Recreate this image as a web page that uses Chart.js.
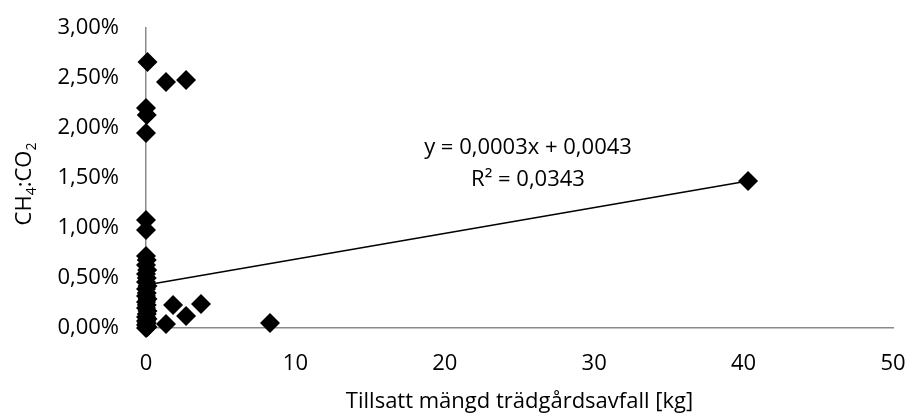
<!DOCTYPE html>
<html>
<head>
<meta charset="utf-8">
<script src="https://cdn.jsdelivr.net/npm/chart.js@4.4.1/dist/chart.umd.min.js"></script>
<style>
  html, body { margin: 0; padding: 0; background: #fff; }
  #wrap { width: 908px; height: 415px; }
</style>
</head>
<body>
<div id="wrap"><canvas id="scatterChart" width="908" height="415"></canvas></div>
<script>
// added garden waste [kg] and CH4:CO2 ratio per sample
const wasteKg = [
    0.1, 1.34, 2.68, 0, 0.05, 0, 0, 0,
    0, 0.05, 0, 0.08, 0, 0.05, 0, 0.1, 0, 0.05, 0, 0.1,
    0, 0.05, 0, 0.1, 0.05, 0, 0.1, 0, 0.05, 0, 0.1, 0,
    1.81, 3.68, 2.68, 1.34, 8.3, 40.3
];
const ratio = [
    0.0266, 0.0246, 0.0248, 0.0220, 0.0213, 0.0195, 0.0108, 0.0098,
    0.0072, 0.0068, 0.0063, 0.0058, 0.0054, 0.0050, 0.0046, 0.0042, 0.0039, 0.0035, 0.0032, 0.0029,
    0.0026, 0.0023, 0.0020, 0.0017, 0.0014, 0.0011, 0.0009, 0.0007, 0.0005, 0.0003, 0.0001, 0.0000,
    0.0023, 0.0024, 0.0012, 0.0004, 0.0005, 0.0147
];

// linear trend (shown rounded to 4 decimals in the label)
const trendSlope = 0.000258;
const trendIntercept = 0.0043;
const trendR2 = 0.0343;
const trendX = [0, 40.3];

const fontFamily = '"Open Sans", sans-serif';
const fontSize = 22;

function commaNum(v, digits) {
    return v.toFixed(digits).replace('.', ',');
}

const points = wasteKg.map((x, i) => ({ x: x, y: ratio[i] }));
const trendPoints = trendX.map(x => ({ x: x, y: trendSlope * x + trendIntercept }));

// y axis title with subscripts + trend equation text
const textPlugin = {
    id: 'textPlugin',
    afterDraw(chart) {
        const ctx = chart.ctx;
        ctx.save();
        ctx.fillStyle = '#000';

        // CH4:CO2 rotated
        ctx.translate(31, 184);
        ctx.rotate(-Math.PI / 2);
        const big = fontSize + 'px ' + fontFamily;
        const small = '14px ' + fontFamily;
        const parts = [['CH', big, 0], ['4', small, 5], [':CO', big, 0], ['2', small, 5]];
        let total = 0;
        parts.forEach(p => { ctx.font = p[1]; total += ctx.measureText(p[0]).width; });
        let px = -total / 2;
        ctx.textBaseline = 'alphabetic';
        ctx.textAlign = 'left';
        parts.forEach(p => {
            ctx.font = p[1];
            ctx.fillText(p[0], px, p[2]);
            px += ctx.measureText(p[0]).width;
        });
        ctx.restore();

        ctx.save();
        ctx.fillStyle = '#000';
        ctx.font = fontSize + 'px ' + fontFamily;
        ctx.textAlign = 'center';
        ctx.textBaseline = 'middle';
        const eq = 'y = ' + commaNum(trendSlope, 4) + 'x + ' + commaNum(trendIntercept, 4);
        ctx.fillText(eq, 528, 148);
        ctx.fillText('R² = ' + commaNum(trendR2, 4), 528, 180);
        ctx.restore();
    }
};

const ctx = document.getElementById('scatterChart').getContext('2d');
const myChart = new Chart(ctx, {
    type: 'scatter',
    data: {
        datasets: [{
            label: 'CH4:CO2',
            data: points,
            pointStyle: 'rectRot',
            pointRadius: 10,
            pointBackgroundColor: '#000',
            pointBorderColor: '#000',
            pointBorderWidth: 0,
            clip: false,
            order: 1
        }, {
            label: 'Linjär',
            type: 'line',
            data: trendPoints,
            borderColor: '#000',
            borderWidth: 1.5,
            pointRadius: 0,
            fill: false,
            clip: false,
            order: 2
        }]
    },
    options: {
        responsive: false,
        animation: false,
        layout: { padding: { top: 28, right: 15, left: 0, bottom: 0 } },
        plugins: {
            legend: { display: false },
            tooltip: { enabled: false }
        },
        scales: {
            x: {
                type: 'linear',
                min: 0,
                max: 50,
                ticks: {
                    stepSize: 10,
                    padding: 23,
                    color: '#000',
                    font: { family: fontFamily, size: fontSize }
                },
                grid: { display: false, drawTicks: false },
                border: { color: '#898989', width: 1.5 },
                title: {
                    display: true,
                    text: 'Tillsatt mängd trädgårdsavfall [kg]',
                    color: '#000',
                    font: { family: fontFamily, size: fontSize },
                    padding: { top: 4, bottom: 0 }
                },
                afterFit(scale) {
                    scale.height = 87;
                    scale.paddingLeft = 0;
                    scale.paddingRight = 0;
                }
            },
            y: {
                type: 'linear',
                min: 0,
                max: 0.03,
                ticks: {
                    stepSize: 0.005,
                    padding: 27,
                    color: '#000',
                    font: { family: fontFamily, size: fontSize },
                    callback: v => commaNum(v * 100, 2) + '%'
                },
                grid: { display: false, drawTicks: false },
                border: { color: '#898989', width: 1.5 },
                afterFit(scale) {
                    scale.width = 146;
                    scale.paddingTop = 0;
                    scale.paddingBottom = 0;
                }
            }
        }
    },
    plugins: [textPlugin]
});
</script>
</body>
</html>
